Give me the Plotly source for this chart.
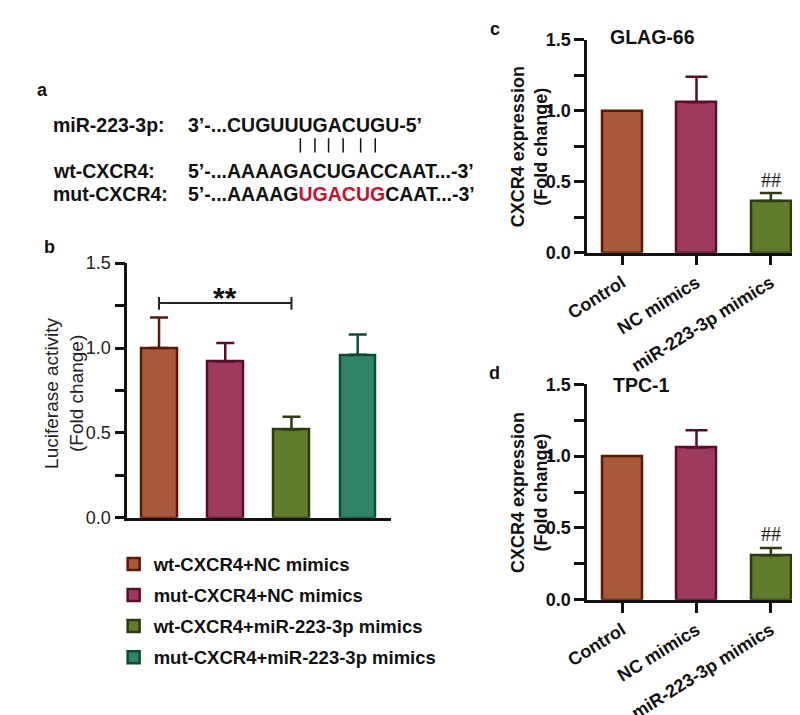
import plotly.graph_objects as go

# ---------------- data ----------------
b_groups = ["wt-CXCR4+NC mimics", "mut-CXCR4+NC mimics",
            "wt-CXCR4+miR-223-3p mimics", "mut-CXCR4+miR-223-3p mimics"]
b_means = [1.00, 0.92, 0.52, 0.96]
b_errs = [0.18, 0.11, 0.075, 0.12]

cd_groups = ["Control", "NC mimics", "miR-223-3p mimics"]
c_means = [1.00, 1.06, 0.365]
c_errs = [0.0, 0.18, 0.055]
d_means = [1.00, 1.06, 0.31]
d_errs = [0.0, 0.12, 0.05]

fills = ["#A9583A", "#9E3A5E", "#5F7B2B", "#2F8468"]
edges = ["#5A1A08", "#5A0C2C", "#2C3C10", "#0E4A36"]

y_ticks = [0, 0.5, 1.0, 1.5]
y_ticktext = ["0.0", "0.5", "1.0", "1.5"]

FONT = "Arial, Liberation Sans, sans-serif"
W, H = 800, 715


def px(x):
    return x / W


def py(y):
    return (H - y) / H


fig = go.Figure()

# panel b bars
for i, g in enumerate(b_groups):
    fig.add_trace(go.Bar(
        x=[g], y=[b_means[i]], name=g, xaxis="x", yaxis="y",
        marker=dict(color=fills[i], line=dict(color=edges[i], width=2.5)),
        width=0.54,
        error_y=dict(type="data", array=[b_errs[i]], arrayminus=[0], symmetric=False,
                     color=edges[i], thickness=2.5, width=9),
        legendgroup=g, showlegend=True))

# panel c and d bars
for axn, means, errs in [("2", c_means, c_errs), ("3", d_means, d_errs)]:
    for i, g in enumerate(cd_groups):
        fig.add_trace(go.Bar(
            x=[g], y=[means[i]], xaxis="x" + axn, yaxis="y" + axn,
            marker=dict(color=fills[i], line=dict(color=edges[i], width=2.5)),
            width=0.54,
            error_y=dict(type="data", array=[errs[i]], arrayminus=[0], symmetric=False,
                         color=edges[i], thickness=2.5, width=11, visible=errs[i] > 0),
            showlegend=False))

yax_common = dict(range=[0, 1.5], tickvals=y_ticks, ticktext=y_ticktext,
                  showline=True, linecolor="#111", linewidth=2.5,
                  ticks="outside", ticklen=10, tickwidth=2.5, tickcolor="#111",
                  minor=dict(dtick=0.25, ticks="outside", ticklen=10, tickwidth=2.5,
                             tickcolor="#111"),
                  showgrid=False, zeroline=False)

xcd_common = dict(range=[-0.47, 2.5], type="category",
                  categoryorder="array", categoryarray=cd_groups,
                  showline=True, linecolor="#111", linewidth=2.5,
                  ticks="outside", ticklen=10, tickwidth=2.5, tickcolor="#111",
                  tickangle=-32, tickfont=dict(size=18, family=FONT, weight="bold"),
                  showgrid=False, zeroline=False)

fig.update_layout(
    width=W, height=H, margin=dict(l=0, r=0, t=0, b=0),
    plot_bgcolor="white", paper_bgcolor="white", bargap=0,
    font=dict(family=FONT, color="#111", size=18),
    xaxis=dict(domain=[px(100), px(371)], range=[-0.48, 3.5], type="category",
               categoryorder="array", categoryarray=b_groups,
               showline=True, linecolor="#111", linewidth=2.5,
               showticklabels=False, ticks="", showgrid=False, zeroline=False),
    yaxis=dict(domain=[py(524), py(257)], anchor="x",
               tickfont=dict(size=18, family=FONT, color="#222"), **yax_common),
    xaxis2=dict(domain=[px(573), 1.0], anchor="y2", **xcd_common),
    yaxis2=dict(domain=[py(246), py(23)], anchor="x2",
                tickfont=dict(size=18, family=FONT, weight="bold"), **yax_common),
    xaxis3=dict(domain=[px(573), 1.0], anchor="y3", **xcd_common),
    yaxis3=dict(domain=[py(610), py(384)], anchor="x3",
                tickfont=dict(size=18, family=FONT, weight="bold"), **yax_common),
    legend=dict(x=px(86), y=py(553), xanchor="left", yanchor="top",
                font=dict(size=18.5, family=FONT, weight="bold"),
                tracegroupgap=4, bgcolor="rgba(0,0,0,0)"),
)

ann = []
# panel labels
for lab, x, y in [("a", 13, 75), ("b", 20, 240), ("c", 478, 12), ("d", 478, 372)]:
    ann.append(dict(text=lab, x=px(x), y=py(y), xref="paper", yref="paper",
                    showarrow=False, xanchor="center", yanchor="middle",
                    font=dict(size=18, family=FONT, weight="bold")))

# panel a sequences
seq_font = dict(size=19.5, family=FONT, weight="bold", color="#111")
rows = [
    ("miR-223-3p:", "3’-...CUGUUUGACUGU-5’", 112),
    ("wt-CXCR4:", "5’-...AAAAGACUGACCAAT...-3’", 160),
    ("mut-CXCR4:", "5’-...AAAAG<span style='color:#C8102E'>UGACUG</span>CAAT...-3’", 185),
]
for name, seq, y in rows:
    ann.append(dict(text=name, x=px(22), y=py(y), xref="paper", yref="paper",
                    showarrow=False, xanchor="left", yanchor="middle", font=seq_font))
    ann.append(dict(text=seq, x=px(160), y=py(y), xref="paper", yref="paper",
                    showarrow=False, xanchor="left", yanchor="middle", font=seq_font))

# axis titles
ann.append(dict(text="Luciferase activity<br>(Fold change)", x=px(35), y=py(393),
                xref="paper", yref="paper", showarrow=False, textangle=-90,
                xanchor="center", yanchor="middle",
                font=dict(size=19, family=FONT, color="#222")))
for yc in [134.5, 497]:
    ann.append(dict(text="CXCR4 expression<br>(Fold change)", x=px(513), y=py(yc),
                    xref="paper", yref="paper", showarrow=False, textangle=-90,
                    xanchor="center", yanchor="middle",
                    font=dict(size=18, family=FONT, weight="bold")))

# panel titles
ann.append(dict(text="GLAG-66", x=px(640), y=py(20), xref="paper", yref="paper",
                showarrow=False, xanchor="center", yanchor="middle",
                font=dict(size=19.5, family=FONT, weight="bold")))
ann.append(dict(text="TPC-1", x=px(628), y=py(385), xref="paper", yref="paper",
                showarrow=False, xanchor="center", yanchor="middle",
                font=dict(size=19.5, family=FONT, weight="bold")))

# significance marks
ann.append(dict(text="**", x=b_groups[1], y=1.30, xref="x", yref="y", showarrow=False,
                xanchor="center", yanchor="middle",
                font=dict(size=30, family=FONT, weight="bold")))
for xr, yr, yv in [("x2", "y2", 0.51), ("x3", "y3", 0.46)]:
    ann.append(dict(text="##", x=cd_groups[2], y=yv, xref=xr, yref=yr, showarrow=False,
                    xanchor="center", yanchor="middle",
                    font=dict(size=20, family="Liberation Serif, serif", color="#222")))
fig.update_layout(annotations=ann)

shapes = []
# pairing lines in panel a
for x in [278, 293, 307, 322, 340, 355]:
    shapes.append(dict(type="line", xref="paper", yref="paper", x0=px(x), x1=px(x),
                       y0=py(126), y1=py(141), line=dict(color="#111", width=1.5)))
# significance bracket
shapes.append(dict(type="line", xref="x", yref="y", x0=b_groups[0], x1=b_groups[2],
                   y0=1.265, y1=1.265, line=dict(color="#222", width=2)))
for g in [b_groups[0], b_groups[2]]:
    shapes.append(dict(type="line", xref="x", yref="y", x0=g, x1=g,
                       y0=1.225, y1=1.30, line=dict(color="#222", width=2)))
fig.update_layout(shapes=shapes)

fig.write_html("out.html")
